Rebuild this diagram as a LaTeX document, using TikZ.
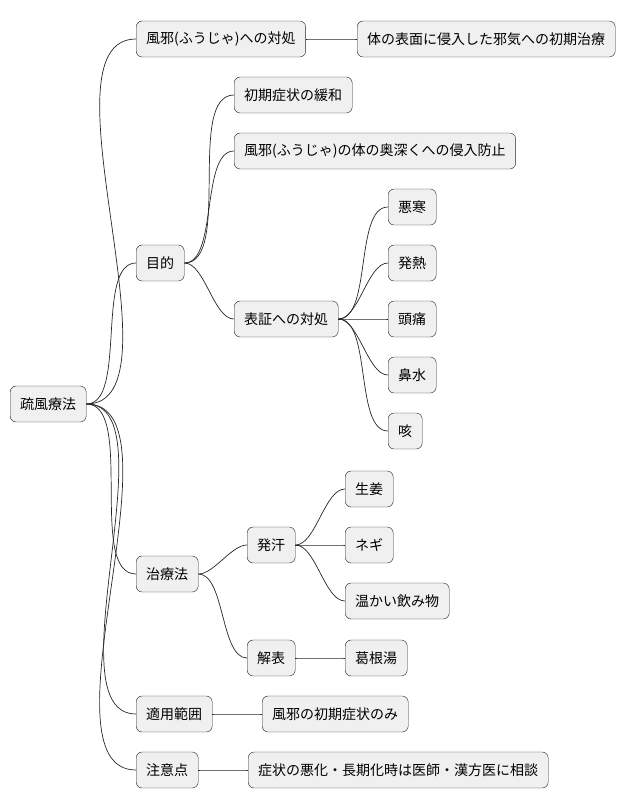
\documentclass[tikz,border=0pt]{standalone}
\usepackage{fontspec}
\newfontfamily\cjk{Noto Sans CJK JP}
\tikzset{
  topic/.style={draw=black!85, fill=black!6, rounded corners=6pt, minimum height=36pt,
    inner xsep=10pt, anchor=west, font=\cjk\fontsize{14}{16}\selectfont},
  link/.style={draw=black!85, line width=0.7pt}
}
\begin{document}
\begin{tikzpicture}[x=1pt, y=-1pt]
        \useasboundingbox (0,0) rectangle (625,809);
        % Wurzel
        \node[topic] (root) at (10,404) {疏風療法};

        % Erste Ebene
        \node[topic] (kaze) at (136,39) {風邪(ふうじゃ)への対処};
        \node[topic] (mokuteki) at (136,263) {目的};
        \node[topic] (chiryo) at (136,574) {治療法};
        \node[topic] (hanni) at (136,714) {適用範囲};
        \node[topic] (chui) at (136,770) {注意点};

        % Zweite Ebene
        \node[topic] (shinnyu) at (357,39) {体の表面に侵入した邪気への初期治療};
        \node[topic] (kanwa) at (234,95) {初期症状の緩和};
        \node[topic] (boshi) at (234,151) {風邪(ふうじゃ)の体の奥深くへの侵入防止};
        \node[topic] (hyosho) at (234,319) {表証への対処};
        \node[topic] (hakkan) at (247,545) {発汗};
        \node[topic] (gehyo) at (247,658) {解表};
        \node[topic] (nomi) at (262,714) {風邪の初期症状のみ};
        \node[topic] (sodan) at (248,770) {症状の悪化・長期化時は医師・漢方医に相談};

        % Dritte Ebene
        \node[topic] (okan) at (388,207) {悪寒};
        \node[topic] (netsu) at (388,263) {発熱};
        \node[topic] (zutsu) at (388,319) {頭痛};
        \node[topic] (hana) at (388,375) {鼻水};
        \node[topic] (seki) at (388,431) {咳};
        \node[topic] (shoga) at (345,489) {生姜};
        \node[topic] (negi) at (345,545) {ネギ};
        \node[topic] (nomimono) at (345,601) {温かい飲み物};
        \node[topic] (kakkon) at (345,658) {葛根湯};

        % Verbindungen
        \foreach \a/\b in {root/kaze, root/mokuteki, root/chiryo, root/hanni, root/chui,
            kaze/shinnyu, mokuteki/kanwa, mokuteki/boshi, mokuteki/hyosho,
            hyosho/okan, hyosho/netsu, hyosho/zutsu, hyosho/hana, hyosho/seki,
            chiryo/hakkan, chiryo/gehyo, hakkan/shoga, hakkan/negi, hakkan/nomimono,
            gehyo/kakkon, hanni/nomi, chui/sodan}
            \draw[link] (\a.east) to[out=0, in=180, looseness=0.7] (\b.west);
    \end{tikzpicture}
\end{document}
